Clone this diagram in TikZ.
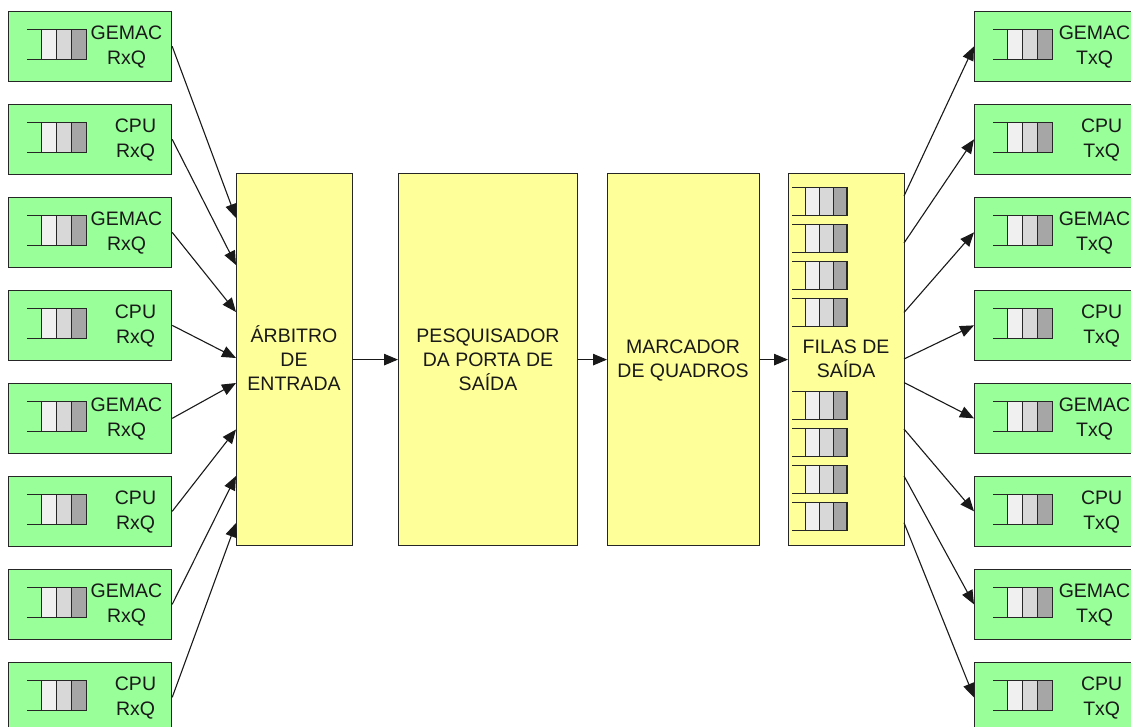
\documentclass[tikz,border=0pt]{standalone}
\usepackage{fontspec}
\setmainfont{Liberation Sans}
\usetikzlibrary{arrows.meta, positioning, calc}
\definecolor{boxgreen}{RGB}{153,255,153}
\definecolor{boxyellow}{RGB}{255,255,153}
\definecolor{celllight}{RGB}{240,240,240}
\definecolor{cellmid}{RGB}{216,216,216}
\definecolor{celldark}{RGB}{166,166,166}

\begin{document}
\begin{tikzpicture}[
  x=1pt, y=-1pt,
  port/.style={rectangle, draw=black!85, fill=boxgreen, line width=1.2pt, anchor=north west,
               minimum width=163pt, minimum height=69.5pt, inner sep=0pt},
  block/.style={rectangle, draw=black!85, fill=boxyellow, line width=1.2pt, anchor=north west,
                minimum height=372pt, inner sep=0pt},
  lbl/.style={align=center, font=\fontsize{19.5}{24.2}\selectfont, inner sep=0pt, text=black!90},
  arrow/.style={-{Triangle[length=14pt, width=11.5pt]}, line width=1.1pt, black!90},
  cell/.style={draw=black!85, line width=1.2pt},
  fila/.pic={
    \draw[cell] (0,0) -- (14.5,0);
    \draw[cell] (0,#1) -- (14.5,#1);
    \draw[cell, fill=celllight] (14.5,0) rectangle (29.5,#1);
    \draw[cell, fill=cellmid] (29.5,0) rectangle (44.5,#1);
    \draw[cell, fill=celldark] (44.5,0) rectangle (59.5,#1);
  }
]
\path[use as bounding box, clip] (0,0) rectangle (1131,726);

% input and output ports
\foreach \i/\y/\nm/\off/\tff in {1/11/GEMAC/118.5/120.5, 2/104/CPU/127.5/127.7, 3/197/GEMAC/118.5/120.5, 4/290/CPU/127.5/127.7,
                                 5/383/GEMAC/118.5/120.5, 6/476/CPU/127.5/127.7, 7/569/GEMAC/118.5/120.5, 8/662/CPU/127.5/127.7} {
  \node[port] (rx\i) at (8,\y) {};
  \pic at (27,\y+18.5) {fila=30};
  \node[lbl] (rxl\i) at (8+\off,\y+36) {\nm\\RxQ};
  \node[port] (tx\i) at (974,\y) {};
  \pic at (993,\y+18.5) {fila=30};
  \node[lbl] (txl\i) at (974+\tff,\y+36) {\nm\\TxQ};
}

% pipeline
\node[block, minimum width=116pt] (arb) at (236,173) {};
\node[block, minimum width=179pt] (pesq) at (398,173) {};
\node[block, minimum width=152pt] (marc) at (607,173) {};
\node[block, minimum width=116pt] (filas) at (788,173) {};

\node[lbl] (arbl) at (294,358) {ÁRBITRO\\DE\\ENTRADA};
\node[lbl] (pesql) at (488,359.5) {PESQUISADOR\\DA PORTA DE\\SAÍDA};
\node[lbl] (marcl) at (683,360.5) {MARCADOR\\DE QUADROS};
\node[lbl] (filasl) at (846,358.8) {FILAS DE\\SAÍDA};

\foreach \y in {187.7, 224.7, 261.7, 298.7, 391.7, 428.7, 465.7, 502.7}
  \pic[xscale=0.924] at (792,\y) {fila=28};

\draw[arrow] (arb.east) -- (pesq.west);
\draw[arrow] (pesq.east) -- (marc.west);
\draw[arrow] (marc.east) -- (filas.west);

% port connectors
\foreach \i/\a/\b in {1/218/196, 2/265/243, 3/312/312.5, 4/358/359, 5/383/382.5, 6/429.5/429, 7/476/476, 8/523/522.7} {
  \coordinate (arbin\i) at (236,\a);
  \coordinate (filout\i) at (904,\b);
  \draw[arrow] (rx\i.east) -- (arbin\i);
  \draw[arrow] (filout\i) -- (tx\i.west);
}
\end{tikzpicture}
\end{document}
